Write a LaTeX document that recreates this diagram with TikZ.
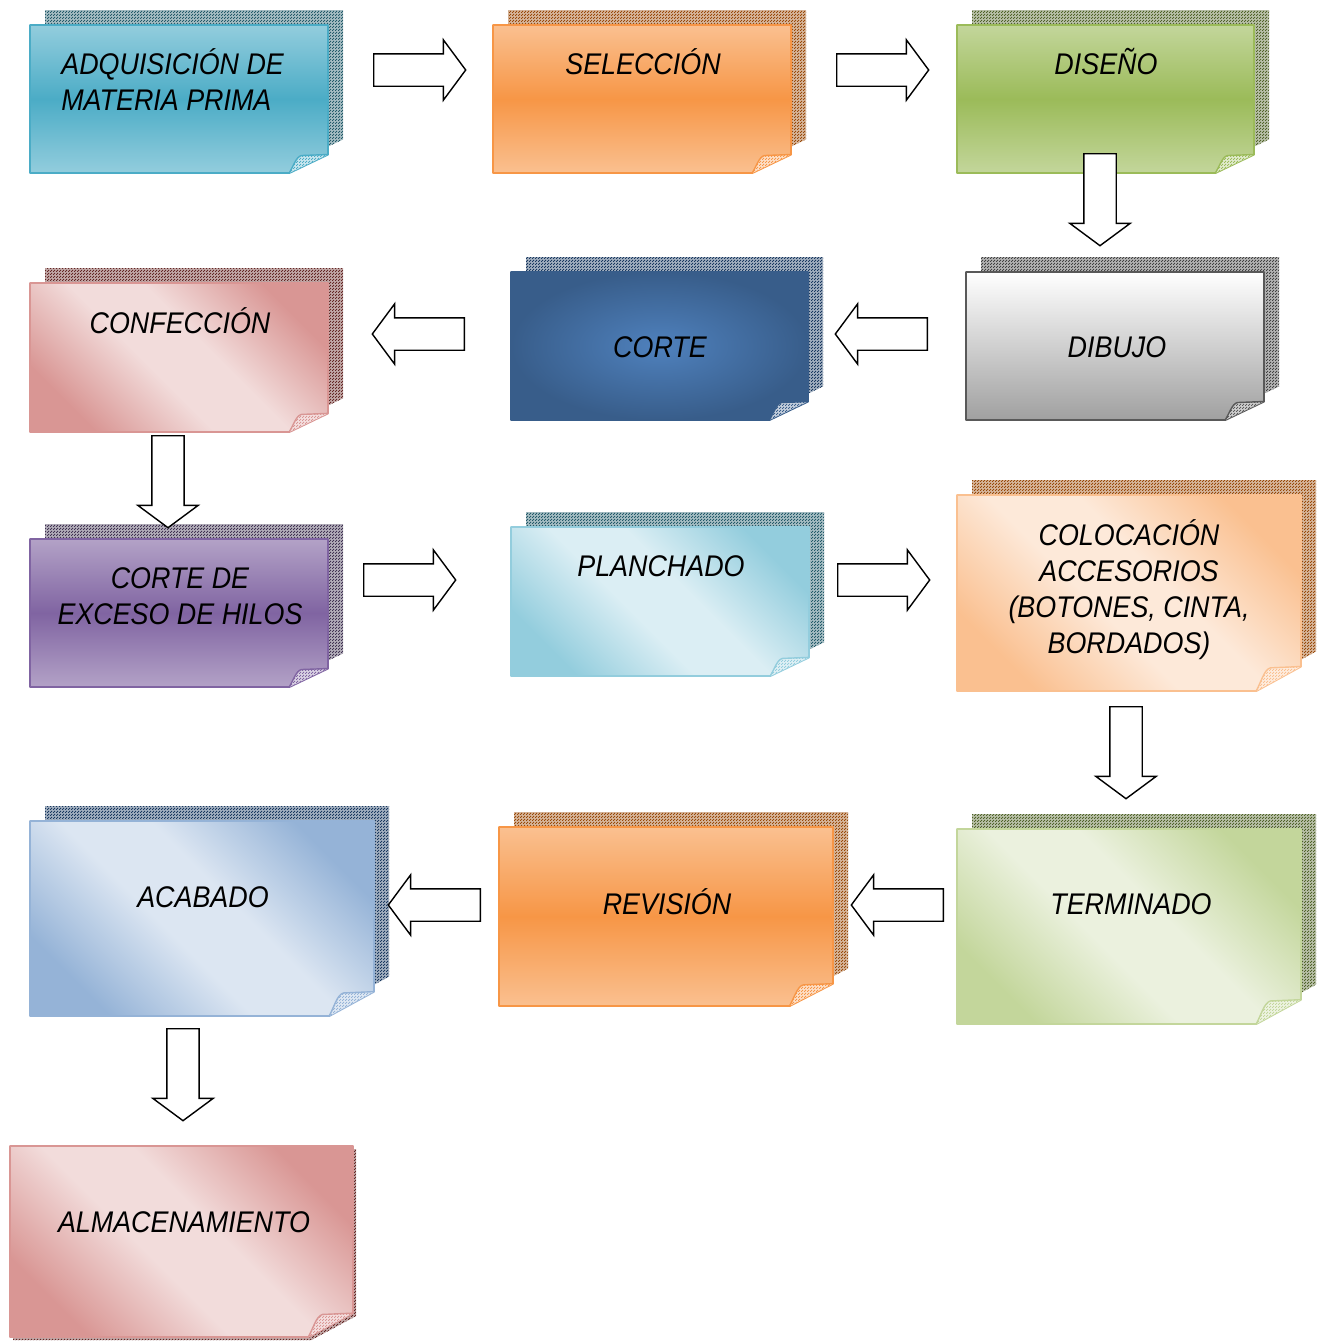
\documentclass[tikz,border=0pt]{standalone}
\usepackage{fontspec}
\newfontfamily\notefont{Liberation Sans}[FakeStretch=0.9]
\usetikzlibrary{positioning,shapes.arrows,fit,patterns}

\definecolor{cyanL}{HTML}{93CDDD}
\definecolor{cyanD}{HTML}{4BACC6}
\definecolor{cyanS}{HTML}{215968}
\definecolor{orangeL}{HTML}{FAC090}
\definecolor{orangeD}{HTML}{F79646}
\definecolor{orangeS}{HTML}{984807}
\definecolor{greenL}{HTML}{C3D69B}
\definecolor{greenD}{HTML}{9BBB59}
\definecolor{greenS}{HTML}{4F6228}
\definecolor{greyB}{HTML}{A0A0A0}
\definecolor{greyD}{HTML}{595959}
\definecolor{greyS}{HTML}{404040}
\definecolor{navyL}{HTML}{4F81BD}
\definecolor{navyD}{HTML}{385D8A}
\definecolor{navyS}{HTML}{17375E}
\definecolor{pinkL}{HTML}{F2DCDB}
\definecolor{pinkD}{HTML}{D99694}
\definecolor{pinkS}{HTML}{632523}
\definecolor{purpleL}{HTML}{B3A2C7}
\definecolor{purpleD}{HTML}{8064A2}
\definecolor{purpleS}{HTML}{3F3151}
\definecolor{iceL}{HTML}{DBEEF4}
\definecolor{peachL}{HTML}{FDE9D9}
\definecolor{mintL}{HTML}{EBF1DE}
\definecolor{skyL}{HTML}{DCE6F2}
\definecolor{skyD}{HTML}{95B3D7}
\colorlet{dgDark}{pinkD}
\colorlet{dgLight}{pinkL}

\pgfdeclarepatternformonly{checker}{\pgfqpoint{0pt}{0pt}}{\pgfqpoint{1.4pt}{1.4pt}}{\pgfqpoint{1.4pt}{1.4pt}}{%
  \pgfpathrectangle{\pgfqpoint{0pt}{0pt}}{\pgfqpoint{0.7pt}{0.7pt}}%
  \pgfpathrectangle{\pgfqpoint{0.7pt}{0.7pt}}{\pgfqpoint{0.7pt}{0.7pt}}%
  \pgfusepath{fill}}
\pgfdeclarehorizontalshading[dgDark,dgLight]{diagband}{100bp}{%
  color(0bp)=(dgDark); color(25bp)=(dgDark); color(44bp)=(dgLight);
  color(56bp)=(dgLight); color(75bp)=(dgDark); color(100bp)=(dgDark)}

\tikzstyle{barrow} = [single arrow, draw=black, fill=white, line width=0.8pt, minimum height=1.84cm, single arrow head extend=0.28cm, single arrow tip angle=107, inner xsep=0pt, inner ysep=0.31cm, anchor=tail]
\tikzstyle{lbl} = [font=\notefont\itshape\fontsize{17}{20.4}\selectfont, inner sep=0pt, align=center, anchor=base]
\tikzset{
  vgrad/.style n args={2}{top color=#1, bottom color=#1, middle color=#2},
  dgrad/.style n args={2}{/utils/exec={\colorlet{dgDark}{#1}\colorlet{dgLight}{#2}}, shading=diagband, shading angle=45}
}

% name, x1, y1, x2, y2, fill, border, shadow, shadow shift
\newcommand{\notebox}[9]{%
  \pgfmathsetmacro\cw{0.13*(#4-#2)}%
  \pgfmathsetmacro\ch{0.125*(#5-#3)}%
  \path[fill=#8!40!white, postaction={pattern=checker, pattern color=#8}, shift={#9}]
    (#2,#3) -- (#4,#3) -- ({#4},{#5-\ch}) -- ({#4-\cw},{#5}) -- (#2,#5) -- cycle;
  \path[#6, draw=#7, line width=1.1pt, line join=round]
    (#2,#3) -- (#4,#3) -- ({#4},{#5-\ch}) -- ({#4-\cw},{#5}) -- (#2,#5) -- cycle;
  \path[fill=#7!30!white, postaction={pattern=checker, pattern color=#7}]
    ({#4-\cw},{#5}) .. controls ({#4-0.85*\cw},{#5-0.55*\ch}) and ({#4-0.8*\cw},{#5-\ch}) .. ({#4-0.62*\cw},{#5-0.95*\ch}) -- ({#4},{#5-\ch}) -- cycle;
  \draw[#7, line width=0.8pt, line join=round]
    ({#4-\cw},{#5}) .. controls ({#4-0.85*\cw},{#5-0.55*\ch}) and ({#4-0.8*\cw},{#5-\ch}) .. ({#4-0.62*\cw},{#5-0.95*\ch}) -- ({#4},{#5-\ch});
  \node[fit={(#2,#3) (#4,#5)}, inner sep=0pt] (#1) {};
}

\begin{document}
\begin{tikzpicture}[x=0.02cm, y=-0.02cm]
  \useasboundingbox (0,0) rectangle (1325,1343);

  % boxes
  \notebox{adq}{30}{25}{328}{173}{vgrad={cyanL}{cyanD}}{cyanD}{cyanS}{(15,-15)}
  \notebox{sel}{493}{25}{791}{173}{vgrad={orangeL}{orangeD}}{orangeD}{orangeS}{(15,-15)}
  \notebox{dis}{957}{25}{1254}{173}{vgrad={greenL}{greenD}}{greenD}{greenS}{(15,-15)}
  \notebox{dib}{966}{272}{1264}{420}{top color=white, bottom color=greyB}{greyD}{greyS}{(15,-15)}
  \notebox{cor}{511}{272}{808}{420}{inner color=navyL, outer color=navyD}{navyD}{navyS}{(15,-15)}
  \notebox{conf}{30}{283}{328}{432}{dgrad={pinkD}{pinkL}}{pinkD}{pinkS}{(15,-15)}
  \notebox{exc}{30}{539}{328}{687}{vgrad={purpleL}{purpleD}}{purpleD}{purpleS}{(15,-15)}
  \notebox{plan}{511}{527}{809}{676}{dgrad={cyanL}{iceL}}{cyanL}{cyanS}{(15,-15)}
  \notebox{col}{957}{495}{1301}{691}{dgrad={orangeL}{peachL}}{orangeL}{orangeS}{(15,-15)}
  \notebox{ter}{957}{829}{1301}{1024}{dgrad={greenL}{mintL}}{greenL}{greenS}{(15,-15)}
  \notebox{rev}{499}{827}{833}{1006}{vgrad={orangeL}{orangeD}}{orangeD}{orangeS}{(15,-15)}
  \notebox{aca}{30}{821}{374}{1016}{dgrad={skyD}{skyL}}{skyD}{navyS}{(15,-15)}
  \notebox{alm}{10}{1146}{353}{1337}{dgrad={pinkD}{pinkL}}{pinkD}{pinkS}{(3,3)}

  % texts (multi-line: base = last line)
  \node[lbl, anchor=base west, align=left] (t-adq) at (61,110) {ADQUISICIÓN DE\\MATERIA PRIMA};
  \node[lbl] (t-sel) at (643,74) {SELECCIÓN};
  \node[lbl] (t-dis) at (1106,74) {DISEÑO};
  \node[lbl] (t-dib) at (1117,357) {DIBUJO};
  \node[lbl] (t-cor) at (660,357) {CORTE};
  \node[lbl] (t-conf) at (180,333) {CONFECCIÓN};
  \node[lbl] (t-exc) at (180,624) {CORTE DE\\EXCESO DE HILOS};
  \node[lbl] (t-plan) at (661,576) {PLANCHADO};
  \node[lbl] (t-col) at (1129,653) {COLOCACIÓN\\ACCESORIOS\\(BOTONES, CINTA,\\BORDADOS)};
  \node[lbl] (t-ter) at (1131,914) {TERMINADO};
  \node[lbl] (t-rev) at (667,914) {REVISIÓN};
  \node[lbl] (t-aca) at (203,907) {ACABADO};
  \node[lbl] (t-alm) at (184,1232) {ALMACENAMIENTO};

  % block arrows
  \node[barrow] (f1) at (373,70) {};
  \node[barrow] (f2) at (836,70) {};
  \node[barrow, rotate=-90] (f3) at (1100,153) {};
  \node[barrow, rotate=180] (f4) at (928,334) {};
  \node[barrow, rotate=180] (f5) at (465,334) {};
  \node[barrow, rotate=-90] (f6) at (168,435) {};
  \node[barrow] (f7) at (363,580) {};
  \node[barrow] (f8) at (837,580) {};
  \node[barrow, rotate=-90] (f9) at (1126,706) {};
  \node[barrow, rotate=180] (f10) at (944,905) {};
  \node[barrow, rotate=180] (f11) at (481,905) {};
  \node[barrow, rotate=-90] (f12) at (183,1028) {};
\end{tikzpicture}
\end{document}
